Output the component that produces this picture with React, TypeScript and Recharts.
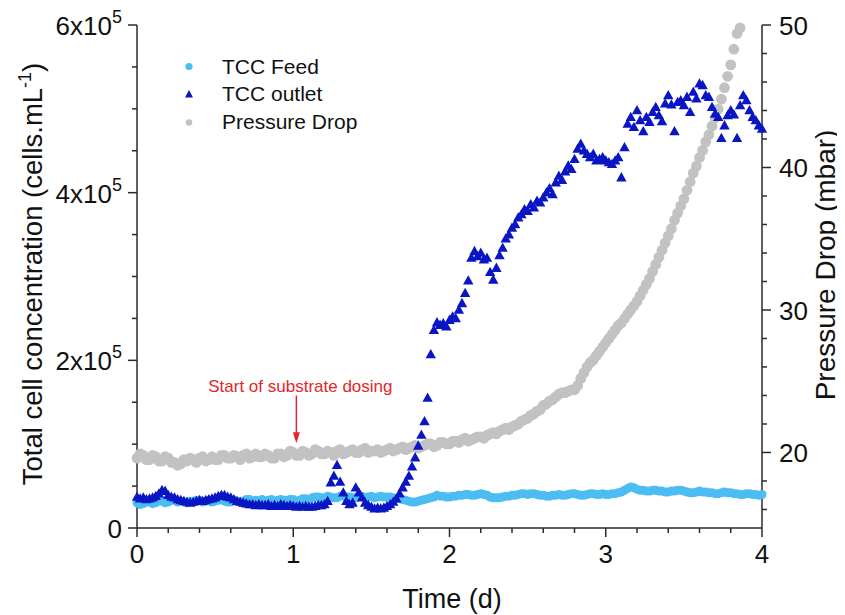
import React from 'react';
import { ScatterChart, Scatter, XAxis, YAxis, ReferenceLine, ReferenceDot } from 'recharts';

// sampling interval of each record (d)
const FEED_STEP = 0.02;
const OUTLET_STEP = 0.02;
const PRESSURE_STEP = 0.02;

// TCC Feed (x10^5 cells/mL)
const feedValues = [
  0.30, 0.28, 0.29, 0.31, 0.31, 0.29, 0.30, 0.32, 0.32, 0.30,
  0.31, 0.33, 0.33, 0.31, 0.32, 0.31, 0.30, 0.32, 0.31, 0.33,
  0.33, 0.31, 0.32, 0.33, 0.31, 0.32, 0.33, 0.34, 0.32, 0.31,
  0.31, 0.33, 0.32, 0.31, 0.32, 0.34, 0.34, 0.32, 0.33, 0.31,
  0.34, 0.32, 0.33, 0.34, 0.32, 0.33, 0.34, 0.33, 0.33, 0.34,
  0.34, 0.32, 0.33, 0.35, 0.35, 0.34, 0.36, 0.37, 0.37, 0.36,
  0.36, 0.38, 0.37, 0.36, 0.36, 0.38, 0.38, 0.37, 0.37, 0.36,
  0.36, 0.38, 0.38, 0.36, 0.37, 0.38, 0.36, 0.37, 0.38, 0.37,
  0.37, 0.37, 0.36, 0.35, 0.35, 0.34, 0.33, 0.32, 0.31, 0.31,
  0.32, 0.33, 0.34, 0.35, 0.36, 0.37, 0.39, 0.38, 0.38, 0.37,
  0.37, 0.38, 0.38, 0.39, 0.39, 0.40, 0.40, 0.39, 0.39, 0.40,
  0.41, 0.40, 0.39, 0.37, 0.36, 0.36, 0.36, 0.37, 0.38, 0.38,
  0.39, 0.39, 0.40, 0.41, 0.41, 0.40, 0.41, 0.41, 0.40, 0.39,
  0.39, 0.38, 0.38, 0.39, 0.39, 0.40, 0.39, 0.39, 0.40, 0.41,
  0.41, 0.40, 0.39, 0.39, 0.40, 0.41, 0.41, 0.40, 0.40, 0.41,
  0.40, 0.40, 0.41, 0.41, 0.42, 0.43, 0.45, 0.47, 0.49, 0.48,
  0.46, 0.45, 0.45, 0.44, 0.44, 0.45, 0.45, 0.44, 0.44, 0.43,
  0.43, 0.44, 0.44, 0.45, 0.45, 0.44, 0.43, 0.42, 0.42, 0.43,
  0.44, 0.43, 0.43, 0.42, 0.42, 0.41, 0.41, 0.42, 0.43, 0.42,
  0.42, 0.41, 0.41, 0.40, 0.40, 0.41, 0.41, 0.40, 0.40, 0.39,
  0.40,
];

// TCC outlet (x10^5 cells/mL)
const outletValues = [
  0.37, 0.35, 0.36, 0.34, 0.35, 0.36, 0.38, 0.41, 0.45, 0.44,
  0.39, 0.37, 0.36, 0.34, 0.33, 0.32, 0.31, 0.30, 0.31, 0.32,
  0.33, 0.32, 0.33, 0.34, 0.35, 0.36, 0.38, 0.39, 0.39, 0.37,
  0.36, 0.34, 0.32, 0.31, 0.30, 0.29, 0.28, 0.28, 0.27, 0.28,
  0.27, 0.27, 0.28, 0.26, 0.27, 0.26, 0.28, 0.27, 0.26, 0.27,
  0.26, 0.25, 0.26, 0.25, 0.26, 0.25, 0.25, 0.26, 0.27, 0.27,
  0.28, 0.32, 0.54, 0.62, 0.75, 0.55, 0.42, 0.32, 0.28, 0.30,
  0.48, 0.42, 0.36, 0.30, 0.27, 0.25, 0.23, 0.24, 0.23, 0.24,
  0.26, 0.28, 0.31, 0.35, 0.41, 0.48, 0.55, 0.62, 0.73, 0.84,
  0.98, 1.11, 1.27, 1.55, 2.07, 2.36, 2.45, 2.42, 2.44, 2.40,
  2.48, 2.52, 2.50, 2.60, 2.68, 2.80, 2.95, 3.22, 3.30, 3.24,
  3.28, 3.20, 3.22, 3.05, 2.96, 3.10, 3.25, 3.34, 3.45, 3.50,
  3.58, 3.62, 3.70, 3.74, 3.80, 3.78, 3.86, 3.82, 3.90, 3.88,
  3.94, 4.00, 4.05, 3.98, 4.12, 4.20, 4.15, 4.25, 4.32, 4.28,
  4.40, 4.52, 4.58, 4.50, 4.46, 4.42, 4.46, 4.38, 4.40, 4.42,
  4.38, 4.36, 4.34, 4.38, 4.42, 4.18, 4.54, 4.82, 4.90, 4.78,
  4.98, 4.86, 4.73, 4.90, 4.84, 4.96, 5.02, 4.92, 4.85, 5.06,
  5.16, 5.05, 4.73, 5.08, 5.10, 5.04, 5.14, 4.96, 5.20, 5.12,
  5.30, 5.28, 5.16, 5.14, 5.02, 4.94, 4.90, 4.65, 4.80, 4.92,
  4.98, 4.93, 4.65, 5.04, 5.16, 5.10, 4.98, 4.90, 4.86, 4.80,
  4.76,
];

// Pressure drop (mbar)
const pressureValues = [
  19.6, 19.9, 19.8, 19.5, 19.5, 19.8, 19.7, 19.4, 19.4, 19.7,
  19.6, 19.3, 19.3, 19.1, 19.2, 19.5, 19.4, 19.6, 19.5, 19.3,
  19.6, 19.7, 19.4, 19.5, 19.7, 19.5, 19.5, 19.8, 19.8, 19.6,
  19.6, 19.8, 19.7, 19.5, 19.8, 19.9, 19.6, 19.7, 19.9, 19.7,
  19.7, 19.9, 19.8, 19.6, 19.6, 19.9, 19.9, 19.7, 19.8, 20.1,
  20.0, 19.8, 19.8, 20.1, 20.0, 19.8, 19.9, 20.2, 20.1, 19.9,
  19.9, 20.1, 20.0, 19.8, 20.1, 20.2, 19.9, 20.0, 20.1, 20.2,
  20.0, 20.0, 20.2, 20.3, 20.0, 20.1, 20.1, 20.2, 20.0, 20.1,
  20.2, 20.3, 20.1, 20.2, 20.3, 20.4, 20.2, 20.3, 20.4, 20.5,
  20.3, 20.4, 20.5, 20.6, 20.6, 20.4, 20.5, 20.7, 20.7, 20.6,
  20.6, 20.8, 20.8, 20.7, 20.9, 21.0, 20.8, 20.9, 21.0, 21.1,
  21.1, 21.0, 21.2, 21.3, 21.4, 21.3, 21.5, 21.6, 21.7, 21.6,
  21.8, 21.9, 22.0, 22.2, 22.3, 22.4, 22.6, 22.7, 22.9, 23.0,
  23.3, 23.4, 23.6, 23.7, 23.9, 24.1, 24.2, 24.2, 24.3, 24.4,
  24.4, 24.7, 25.2, 25.6, 26.0, 26.3, 26.5, 26.8, 27.1, 27.4,
  27.7, 28.0, 28.3, 28.6, 28.9, 29.1, 29.4, 29.7, 30.0, 30.3,
  30.6, 31.0, 31.4, 31.8, 32.2, 32.7, 33.2, 33.7, 34.2, 34.7,
  35.2, 35.7, 36.3, 36.8, 37.3, 37.8, 38.4, 39.0, 39.6, 40.1,
  40.7, 41.2, 41.8, 42.3, 42.9, 43.5, 44.1, 44.8, 45.6, 46.4,
  47.2, 48.3, 49.4, 49.8,
];

const timeTicks = [0, 0.2, 0.4, 0.6, 0.8, 1, 1.2, 1.4, 1.6, 1.8, 2, 2.2, 2.4, 2.6, 2.8, 3, 3.2, 3.4, 3.6, 3.8, 4];
const timeLabels = [0, 1, 2, 3, 4];
const tccTicks = [0, 0.5, 1, 1.5, 2, 2.5, 3, 3.5, 4, 4.5, 5, 5.5, 6];
const tccLabels = [0, 2, 4, 6];
const pressureTicks = [16, 18, 20, 22, 24, 26, 28, 30, 32, 34, 36, 38, 40, 42, 44, 46, 48, 50];
const pressureLabels = [20, 30, 40, 50];

const DOSING_TIME = 1.02;

const FEED = '#4CBDF2';
const OUTLET = '#0A16C4';
const PRESSURE = '#C2C2C2';
const NOTE = '#E3262B';
const AXIS = '#2b2b2b';
const FONT = '"Liberation Sans", Arial, sans-serif';

const toPoints = (vals: number[], step: number) =>
  vals.map((v, i) => ({ t: Math.round(i * step * 100) / 100, v }));

const feedData = toPoints(feedValues, FEED_STEP);
const outletData = toPoints(outletValues, OUTLET_STEP);
const pressureData = toPoints(pressureValues, PRESSURE_STEP);

const circle = (color: string, r: number) => (p: any) =>
  <circle cx={p.cx} cy={p.cy} r={r} fill={color} />;

const triangle = (p: any) => (
  <polygon
    points={`${p.cx},${p.cy - 5.5} ${p.cx - 5.2},${p.cy + 3.8} ${p.cx + 5.2},${p.cy + 3.8}`}
    fill={OUTLET}
  />
);

const BottomTick = ({ x, y, payload }: any) => {
  const major = timeLabels.includes(payload.value);
  return (
    <g>
      <line x1={x} x2={x} y1={y} y2={y + (major ? 9 : 5)} stroke={AXIS} strokeWidth={1.5} />
      {major && (
        <text x={x} y={y + 35} textAnchor="middle" fontSize={26} fontFamily={FONT} fill="#111">
          {payload.value}
        </text>
      )}
    </g>
  );
};

const TopTick = ({ x, y, payload }: any) => {
  const major = timeLabels.includes(payload.value);
  return <line x1={x} x2={x} y1={y} y2={y + (major ? 9 : 5)} stroke={AXIS} strokeWidth={1.5} />;
};

const LeftTick = ({ x, y, payload }: any) => {
  const major = tccLabels.includes(payload.value);
  return (
    <g>
      <line x1={x - (major ? 9 : 5)} x2={x} y1={y} y2={y} stroke={AXIS} strokeWidth={1.5} />
      {major && (
        <text x={x - 15} y={y + 10} textAnchor="end" fontSize={26} fontFamily={FONT} fill="#111">
          {payload.value === 0 ? (
            '0'
          ) : (
            <>
              <tspan>{payload.value}x10</tspan>
              <tspan dy={-12} fontSize={18}>5</tspan>
            </>
          )}
        </text>
      )}
    </g>
  );
};

const RightTick = ({ x, y, payload }: any) => {
  const major = pressureLabels.includes(payload.value);
  return (
    <g>
      <line x1={x} x2={x + (major ? 9 : 5)} y1={y} y2={y} stroke={AXIS} strokeWidth={1.5} />
      {major && (
        <text x={x + 17} y={y + 10} textAnchor="start" fontSize={26} fontFamily={FONT} fill="#111">
          {payload.value}
        </text>
      )}
    </g>
  );
};

const ArrowHead = (p: any) => (
  <polygon points={`${p.cx},${p.cy} ${p.cx - 3.5},${p.cy - 11} ${p.cx + 3.5},${p.cy - 11}`} fill={NOTE} />
);

const NoteText = (p: any) => (
  <text x={p.cx + 4} y={p.cy - 4} textAnchor="middle" fontSize={17} fontFamily={FONT} fill={NOTE}>
    Start of substrate dosing
  </text>
);

const axisLine = { stroke: AXIS, strokeWidth: 1.5 };

export default function App() {
  return (
    <div style={{ position: 'relative', width: 837, height: 607 }}>
      <ScatterChart width={837} height={607} margin={{ top: 17, right: 23, bottom: 27, left: 29 }}>
        <XAxis
          xAxisId="time"
          type="number"
          dataKey="t"
          domain={[0, 4]}
          ticks={timeTicks}
          interval={0}
          height={60}
          tickSize={0}
          tickMargin={0}
          tickLine={false}
          axisLine={axisLine}
          tick={<BottomTick />}
        />
        <XAxis
          xAxisId="top"
          orientation="top"
          type="number"
          dataKey="t"
          domain={[0, 4]}
          ticks={timeTicks}
          interval={0}
          height={0}
          tickSize={0}
          tickMargin={0}
          tickLine={false}
          axisLine={axisLine}
          tick={<TopTick />}
        />
        <YAxis
          yAxisId="left"
          type="number"
          dataKey="v"
          domain={[0, 6]}
          ticks={tccTicks}
          interval={0}
          width={100}
          tickSize={0}
          tickMargin={0}
          tickLine={false}
          axisLine={axisLine}
          tick={<LeftTick />}
        />
        <YAxis
          yAxisId="right"
          orientation="right"
          type="number"
          dataKey="v"
          domain={[14.7, 50]}
          ticks={pressureTicks}
          interval={0}
          width={60}
          tickSize={0}
          tickMargin={0}
          tickLine={false}
          axisLine={axisLine}
          tick={<RightTick />}
        />
        <Scatter
          name="Pressure Drop"
          data={pressureData}
          xAxisId="top"
          yAxisId="right"
          shape={circle(PRESSURE, 5.4)}
          isAnimationActive={false}
        />
        <Scatter
          name="TCC Feed"
          data={feedData}
          xAxisId="time"
          yAxisId="left"
          shape={circle(FEED, 4.5)}
          isAnimationActive={false}
        />
        <Scatter
          name="TCC outlet"
          data={outletData}
          xAxisId="time"
          yAxisId="left"
          shape={triangle}
          isAnimationActive={false}
        />
        <ReferenceLine
          xAxisId="time"
          yAxisId="left"
          segment={[{ x: DOSING_TIME, y: 1.58 }, { x: DOSING_TIME, y: 1.12 }]}
          stroke={NOTE}
          strokeWidth={1.5}
        />
        <ReferenceDot xAxisId="time" yAxisId="left" x={DOSING_TIME} y={1.01} shape={ArrowHead} />
        <ReferenceDot xAxisId="time" yAxisId="left" x={DOSING_TIME} y={1.58} shape={NoteText} />
      </ScatterChart>

      {/* legend and axis titles */}
      <svg
        width={837}
        height={607}
        style={{ position: 'absolute', left: 0, top: 0, pointerEvents: 'none' }}
        fontFamily={FONT}
      >
        <circle cx={181} cy={58.5} r={3.6} fill={FEED} />
        <polygon points="181,82 177,89.5 185,89.5" fill={OUTLET} />
        <circle cx={181} cy={114.5} r={3.3} fill={PRESSURE} />
        <text x={214} y={65.5} fontSize={21} fill="#111">TCC Feed</text>
        <text x={214} y={93} fontSize={21} fill="#111">TCC outlet</text>
        <text x={214} y={121} fontSize={21} fill="#111">Pressure Drop</text>

        <text transform="translate(34,266) rotate(-90)" textAnchor="middle" fontSize={27.5} fill="#111">
          Total cell concentration (cells.mL
          <tspan dy={-11} fontSize={18}>-1</tspan>
          <tspan dy={11}>)</tspan>
        </text>
        <text transform="translate(827,257) rotate(-90)" textAnchor="middle" fontSize={28} fill="#111">
          Pressure Drop (mbar)
        </text>
        <text x={444} y={600} textAnchor="middle" fontSize={27} fill="#111">
          Time (d)
        </text>
      </svg>
    </div>
  );
}
